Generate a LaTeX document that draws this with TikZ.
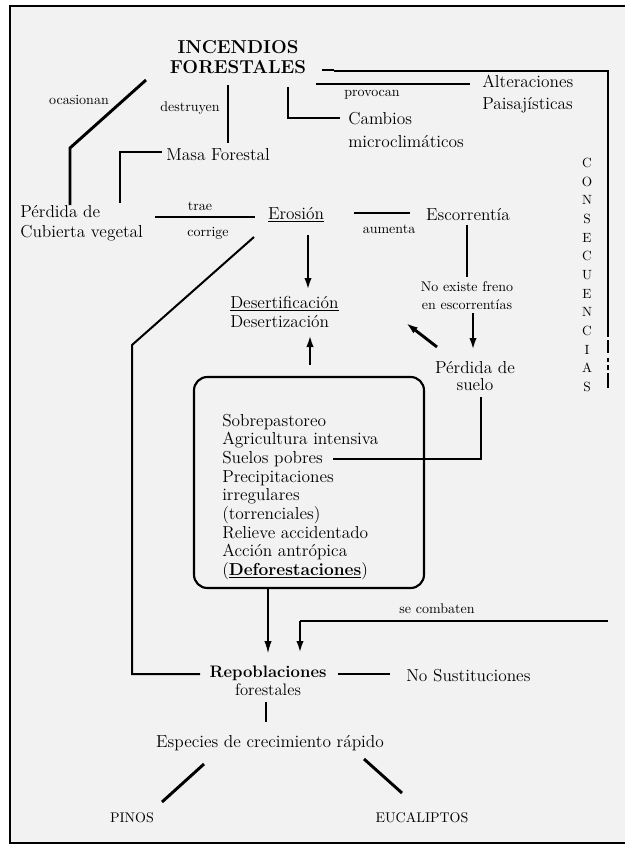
\documentclass[tikz,border=0pt]{standalone}
\usetikzlibrary{arrows.meta}
\begin{document}
\begin{tikzpicture}[x=0.75pt,y=-0.75pt,
  txt/.style={inner sep=0pt, font=\fontsize{13}{15}\selectfont},
  sm/.style={inner sep=0pt, font=\fontsize{10.5}{12}\selectfont},
  thk/.style={line width=2.2pt},
  med/.style={line width=1.5pt},
  thn/.style={line width=0.8pt},
  arr/.style={-{Latex[length=9pt,width=5.5pt]}}
]
\useasboundingbox (0,0) rectangle (625,845);
\fill[white] (0,0) rectangle (625,845);
\fill[black!5] (10,6) rectangle (625,843);
\draw[line width=1.5pt] (625,6) -- (10,6) -- (10,843) -- (625,843);

% nodes
\node[inner sep=0pt, align=center, font=\bfseries\fontsize{14}{15}\selectfont] (inc) at (238,57) {INCENDIOS\\FORESTALES};
\node[sm] (oca) at (79,100) {ocasionan};
\node[sm] (des) at (190,108) {destruyen};
\node[sm] (prov) at (372,95) {provocan};
\node[txt, align=left, anchor=west, font=\fontsize{13}{16}\selectfont] (alt) at (482,94) {Alteraciones\\Paisajísticas};
\node[txt, align=left, anchor=west, font=\fontsize{13}{17}\selectfont] (cam) at (348,130) {Cambios\\microclimáticos};
\node[txt, anchor=west] (masa) at (166,155) {Masa Forestal};
\node[txt, align=left, anchor=west] (perd) at (20,223) {Pérdida de\\Cubierta vegetal};
\node[sm] (trae) at (200,206) {trae};
\node[sm] (corr) at (208,233) {corrige};
\node[txt] (ero) at (296,215) {\underline{Erosión}};
\node[sm] (aum) at (389,229) {aumenta};
\node[txt] (esc) at (468,215) {Escorrentía};
\node[sm, align=center, font=\fontsize{10.5}{13.5}\selectfont] (noex) at (467,296) {No existe freno\\en escorrentías};
\node[txt, align=left, anchor=west, font=\fontsize{13}{14.5}\selectfont] (dst) at (230,312) {\underline{Desertificación}\\Desertización};
\node[txt, align=center, font=\fontsize{13}{13}\selectfont] (ps) at (475,376) {Pérdida de\\suelo};
\draw[line width=1.6pt, rounded corners=10pt] (194,377) rectangle (424,588);
\node[txt, align=left, anchor=west, font=\fontsize{13}{14}\selectfont] (box) at (222,497)
  {Sobrepastoreo\\Agricultura intensiva\\Suelos pobres\\Precipitaciones\\irregulares\\(torrenciales)\\Relieve accidentado\\Acción antrópica\\(\textbf{\underline{Deforestaciones}})};
\node[sm] (comb) at (437,609) {se combaten};
\node[txt, align=center, font=\fontsize{12.5}{13.5}\selectfont] (rep) at (268,681) {\textbf{Repoblaciones}\\forestales};
\node[txt, anchor=west] (nos) at (406,676) {No Sustituciones};
\node[txt] (esp) at (270,743) {Especies de crecimiento rápido};
\node[sm] (pin) at (132,818) {PINOS};
\node[sm] (euc) at (422,818) {EUCALIPTOS};
\node[inner sep=0pt, align=center, font=\fontsize{10}{14}\selectfont] (cons) at (587,275)
  {C\\O\\N\\S\\E\\C\\U\\E\\N\\C\\I\\A\\S};

% coordinates
\coordinate (t1) at (322,70);
\coordinate (r1) at (608,337);
\coordinate (o1) at (146,80);
\coordinate (d1) at (228,85);
\coordinate (d2) at (228,143);
\coordinate (m1) at (162,152);
\coordinate (p1) at (316,84);
\coordinate (p2) at (470,84);
\coordinate (c1) at (288,87);
\coordinate (c2) at (340,118);
\coordinate (e1) at (155,217);
\coordinate (e2) at (255,217);
\coordinate (a1) at (354,213);
\coordinate (a2) at (410,213);
\coordinate (s1) at (467,225);
\coordinate (s2) at (467,277);
\coordinate (s3) at (473,313);
\coordinate (s4) at (473,350);
\coordinate (de1) at (308,235);
\coordinate (de2) at (308,290);
\coordinate (b1) at (310,365);
\coordinate (b2) at (310,335);
\coordinate (q1) at (437,347);
\coordinate (q2) at (406,323);
\coordinate (g1) at (254,237);
\coordinate (g2) at (200,674);
\coordinate (sp) at (333,459);
\coordinate (ps1) at (481,397);
\coordinate (bb) at (268,588);
\coordinate (bt) at (268,653);
\coordinate (k1) at (608,621);
\coordinate (k2) at (300,653);
\coordinate (n1) at (338,674);
\coordinate (n2) at (390,674);
\coordinate (v1) at (266,702);
\coordinate (v2) at (266,722);
\coordinate (l1) at (204,764);
\coordinate (l2) at (162,802);
\coordinate (u1) at (364,759);
\coordinate (u2) at (402,793);

% connectors
\draw[thk] (t1) -- (334,70);
\draw[thk] (334,71) -- (608,71) -- (r1);
\draw[thk] (608,340) -- (608,353);
\draw[thk] (608,358) -- (608,362);
\draw[thk] (608,365) -- (608,370);
\draw[thk] (608,373) -- (608,388);
\draw[thk] (o1) -- (70,148) -- (70,205);
\draw[med] (d1) -- (d2);
\draw[thn] (m1) -- (120,152) -- (120,203);
\draw[thk] (p1) -- (p2);
\draw[med] (c1) -- (288,118) -- (c2);
\draw[thn] (e1) -- (e2);
\draw[thk] (a1) -- (a2);
\draw[med] (s1) -- (s2);
\draw[thk, arr] (s3) -- (s4);
\draw[thk, arr] (de1) -- (de2);
\draw[thk, arr] (b1) -- (b2);
\draw[thk, arr] (q1) -- (q2);
\draw[med] (g1) -- (132,345) -- (132,674) -- (g2);
\draw[thn] (sp) -- (481,459) -- (ps1);
\draw[thn, arr] (bb) -- (bt);
\draw[thk] (k1) -- (300,621);
\draw[thk, arr] (300,621) -- (k2);
\draw[thk] (n1) -- (n2);
\draw[thn] (v1) -- (v2);
\draw[thk] (l1) -- (l2);
\draw[thk] (u1) -- (u2);
\end{tikzpicture}
\end{document}
